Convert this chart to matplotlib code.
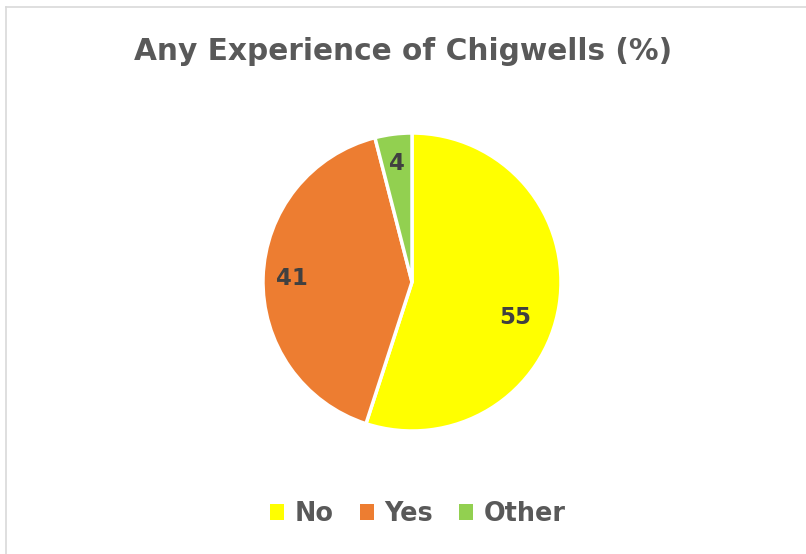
import matplotlib
matplotlib.use("Agg")
import matplotlib.pyplot as plt
from matplotlib.lines import Line2D
from matplotlib.patches import Patch
import numpy as np

categories = ["No", "Yes", "Other"]
values = [55, 41, 4]
colors = ["#FFFF00", "#ED7D31", "#92D050"]
title = "Any Experience of Chigwells (%)"

plt.rcParams['font.family'] = ['DejaVu Sans']

W, H = 806, 554
fig = plt.figure(figsize=(W / 100, H / 100), dpi=100)
fig.patch.set_facecolor("white")

# chart frame (left and top edges visible)
fig.add_artist(Line2D([6 / W, 6 / W], [0, 1 - 7 / H], transform=fig.transFigure,
                      color="#D9D9D9", lw=1.2))
fig.add_artist(Line2D([6 / W, 1], [1 - 7 / H, 1 - 7 / H], transform=fig.transFigure,
                      color="#D9D9D9", lw=1.2))

cx, cy, r = 412, 282, 149
ax = fig.add_axes([(cx - r) / W, (H - cy - r) / H, 2 * r / W, 2 * r / H])
wedges, texts = ax.pie(values, colors=colors, startangle=90, counterclock=False,
                       wedgeprops=dict(edgecolor="white", linewidth=2.5))
ax.set_xlim(-1, 1)
ax.set_ylim(-1, 1)
ax.set_aspect("equal")
ax.axis("off")

label_r = [0.73, 0.805, 0.805]
label_shift = [-10, 0, 0]
for w, v, lr, sh in zip(wedges, values, label_r, label_shift):
    ang = np.deg2rad((w.theta1 + w.theta2) / 2 + sh)
    ax.text(lr * np.cos(ang), lr * np.sin(ang), str(v), ha="center", va="center",
            fontsize=16.5, fontweight="bold", color="#404040")

fig.text(0.5, 1 - 52 / H, title, ha="center", va="center", fontsize=21.3,
         fontweight="bold", color="#595959")

handles = [Patch(facecolor=c, edgecolor="none") for c in colors]
leg = fig.legend(handles, categories, loc="center", bbox_to_anchor=(418 / W, 1 - 514 / H),
                 ncol=3, frameon=False, handlelength=0.55, handleheight=0.55,
                 handletextpad=0.43, columnspacing=1.0,
                 prop=dict(size=18.4, weight="bold"))
for t in leg.get_texts():
    t.set_color("#595959")

fig.savefig("out.png", dpi=100, facecolor="white")
